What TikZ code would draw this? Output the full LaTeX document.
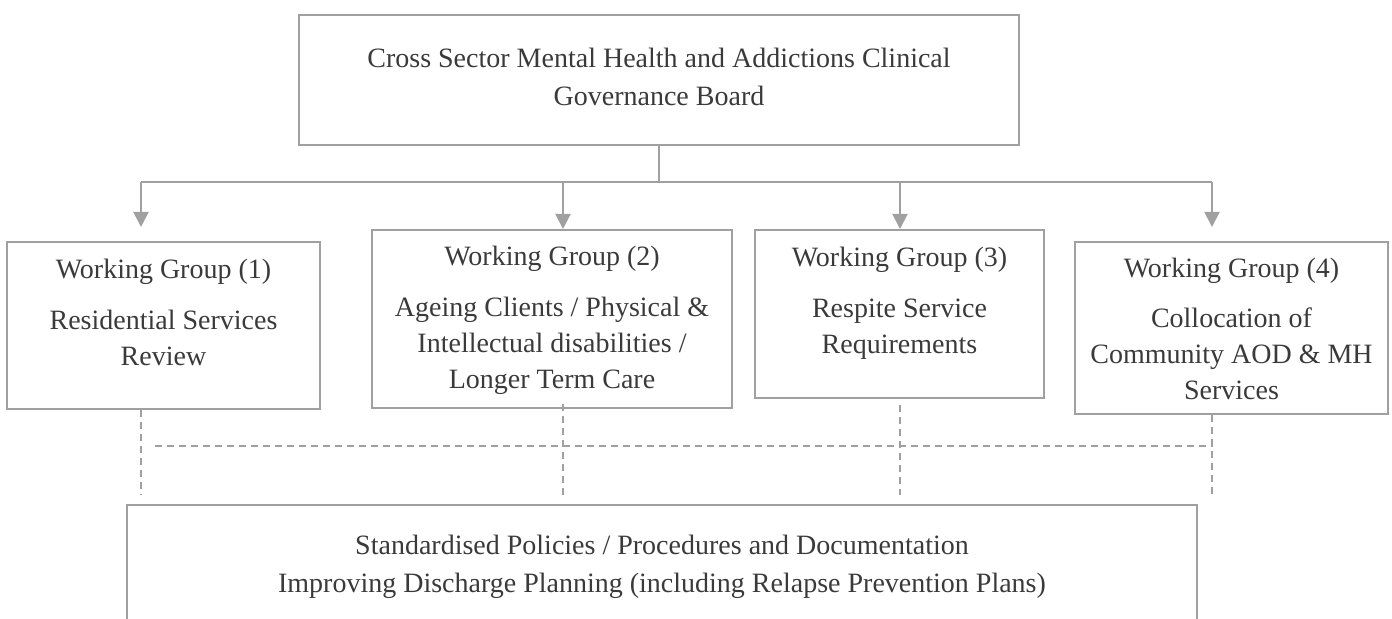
\documentclass[tikz,border=0pt]{standalone}
\usepackage{fontspec}
\setmainfont{Liberation Serif}
\usetikzlibrary{arrows.meta}

\definecolor{gristrazo}{HTML}{A0A0A0}
\definecolor{gristexto}{HTML}{3A3A3A}

\begin{document}
\begin{tikzpicture}[x=0.5pt, y=-0.5pt,
    caja/.style={draw=gristrazo, line width=1pt, rectangle, inner sep=0pt},
    rotulo/.style={text=gristexto, font=\fontsize{14pt}{18pt}\selectfont,
        align=center, inner sep=0pt, anchor=base},
    rotuloancho/.style={rotulo, font=\fontsize{14pt}{19pt}\selectfont},
    conector/.style={draw=gristrazo, line width=1pt},
    flecha/.style={conector, -{Triangle[length=7.5pt,width=7.5pt]}},
    punteada/.style={draw=gristrazo, line width=0.8pt, dash pattern=on 3.5pt off 2.5pt}]
    \path[use as bounding box, clip] (0,0) rectangle (1392,619);

    % Consejo de gobierno (arriba); el ancla base va en la ultima linea
    \node[caja, minimum width=360pt, minimum height=65pt] (consejo) at (659,80) {};
    \node[rotuloancho] (consejotxt) at (659,106)
        {Cross Sector Mental Health and Addictions Clinical\\Governance Board};

    % Grupos de trabajo
    \node[caja, minimum width=156.5pt, minimum height=83.5pt] (wg1) at (163.5,325.5) {};
    \node[caja, minimum width=180pt, minimum height=89pt] (wg2) at (552,319) {};
    \node[caja, minimum width=144.5pt, minimum height=84pt] (wg3) at (899.5,314) {};
    \node[caja, minimum width=156.5pt, minimum height=86pt] (wg4) at (1231.5,328) {};

    \node[rotulo] (wg1txt) at (163.5,366)
        {Working Group (1)\\[7.5pt]Residential Services\\Review};
    \node[rotulo] (wg2txt) at (552,389)
        {Working Group (2)\\[7.5pt]Ageing Clients / Physical \&\\Intellectual disabilities /\\Longer Term Care};
    \node[rotulo] (wg3txt) at (899.5,354)
        {Working Group (3)\\[7.5pt]Respite Service\\Requirements};
    \node[rotulo] (wg4txt) at (1231.5,400)
        {Working Group (4)\\[7pt]Collocation of\\Community AOD \& MH\\Services};

    % Bus de flechas
    \coordinate (bus) at (659,182);
    \coordinate (b1) at (141,182);
    \coordinate (b2) at (563,182);
    \coordinate (b3) at (900,182);
    \coordinate (b4) at (1212,182);
    \draw[conector] (consejo.south) -- (bus);
    \draw[conector] (b1) -- (b4);
    \draw[flecha, shorten >=7pt] (b1) -- (b1 |- wg1.north);
    \draw[flecha] (b2) -- (b2 |- wg2.north);
    \draw[flecha] (b3) -- (b3 |- wg3.north);
    \draw[flecha, shorten >=7pt] (b4) -- (b4 |- wg4.north);

    % Lineas punteadas hacia abajo
    \coordinate (d1) at (141,495);
    \coordinate (d2) at (563,495);
    \coordinate (d3) at (900,495);
    \coordinate (d4) at (1212,495);
    \coordinate (h0) at (155,446);
    \coordinate (h1) at (1213,446);
    \draw[punteada] (d1 |- wg1.south) -- (d1);
    \draw[punteada] ([yshift=2.5pt]d2 |- wg2.south) -- (d2);
    \draw[punteada] ([yshift=-3pt]d3 |- wg3.south) -- (d3);
    \draw[punteada] (d4 |- wg4.south) -- (d4);
    \draw[punteada] (h0) -- (h1);

    % Caja inferior (cortada por abajo)
    \node[caja, minimum width=535pt, minimum height=72.5pt] (bases) at (662,577.5) {};
    \node[rotuloancho] (basestxt) at (662,593)
        {Standardised Policies / Procedures and Documentation\\Improving Discharge Planning (including Relapse Prevention Plans)};
\end{tikzpicture}
\end{document}
